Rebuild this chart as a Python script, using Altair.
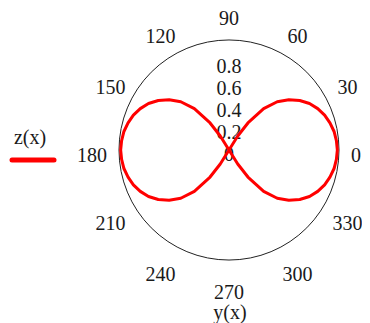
import altair as alt
import pandas as pd

# ---- data ----
curve_angle = [0, 5, 10, 15, 20, 25, 30, 35, 40, 45, 50, 55, 58, 60,
               240, 238, 235, 230, 225, 220, 215, 210, 205, 200, 195, 190, 185, 180,
               175, 170, 165, 160, 155, 150, 145, 140, 135, 130, 125, 122, 120,
               300, 302, 305, 310, 315, 320, 325, 330, 335, 340, 345, 350, 355, 360]
curve_radius = [0.985, 0.98, 0.97, 0.95, 0.925, 0.89, 0.845, 0.785, 0.71, 0.62, 0.49, 0.30, 0.15, 0.0,
                0.0, 0.15, 0.30, 0.49, 0.62, 0.71, 0.785, 0.845, 0.89, 0.925, 0.95, 0.97, 0.98, 0.985,
                0.98, 0.97, 0.95, 0.925, 0.89, 0.845, 0.785, 0.71, 0.62, 0.49, 0.30, 0.15, 0.0,
                0.0, 0.15, 0.30, 0.49, 0.62, 0.71, 0.785, 0.845, 0.89, 0.925, 0.95, 0.97, 0.98, 0.985]
tick_angles = [0, 30, 60, 90, 120, 150, 180, 210, 240, 270, 300, 330]
angle_labels = ["0", "30", "60", "90", "120", "150", "180", "210", "240", "270", "300", "330"]
radial_ticks = [0, 0.2, 0.4, 0.6, 0.8]
radial_labels = ["0", "0.2", "0.4", "0.6", "0.8"]
outer_radius = [1.0]
legend_label = ["z(x)"]
angle_axis_label = ["y(x)"]

# ---- layout ----
W, H = 354, 315
CX, CY, S = 221, 142, 110
LABEL_R = 1.245
XMAX_LABEL = (W - CX - 6) / S   # keep the right-most label inside the page
FONT = "Liberation Serif"
FS = 20
TXT = "#1a1a1a"

xs = alt.Scale(domain=[-CX / S, (W - CX) / S], nice=False, zero=False)
ys = alt.Scale(domain=[(CY - H) / S, CY / S], nice=False, zero=False)

def X(f):
    return alt.X(f, type="quantitative", scale=xs, axis=None)

def Y(f):
    return alt.Y(f, type="quantitative", scale=ys, axis=None)

circle = alt.Chart(pd.DataFrame({"r": outer_radius})).transform_calculate(
    px="0", py="0"
).mark_point(shape="circle", filled=False, stroke="#222222", strokeWidth=1,
             size=(2 * S * outer_radius[0]) ** 2, opacity=1).encode(x=X("px"), y=Y("py"))

radial = alt.Chart(pd.DataFrame({"r": radial_ticks, "lab": radial_labels})).transform_calculate(
    px="0", py="datum.r"
).mark_text(font=FONT, fontSize=FS, color=TXT, align="center", baseline="middle", dy=5).encode(
    x=X("px"), y=Y("py"), text="lab:N")

angles = alt.Chart(pd.DataFrame({"a": tick_angles, "lab": angle_labels})).transform_calculate(
    px=f"min({LABEL_R}*cos(datum.a*PI/180), {XMAX_LABEL})", py=f"{LABEL_R}*sin(datum.a*PI/180)"
).mark_text(font=FONT, fontSize=FS, color=TXT, align="center", baseline="middle", dy=6).encode(
    x=X("px"), y=Y("py"), text="lab:N")

curve_df = pd.DataFrame({"i": list(range(len(curve_angle))), "deg": curve_angle, "r": curve_radius})
curve = alt.Chart(curve_df).transform_calculate(
    px="datum.r*cos(datum.deg*PI/180)", py="datum.r*sin(datum.deg*PI/180)"
).mark_line(color="#ff0000", strokeWidth=3, strokeJoin="round", strokeCap="round").encode(
    x=X("px"), y=Y("py"), order="i:Q")

legend_text = alt.Chart(pd.DataFrame({"t": legend_label})).mark_text(
    font=FONT, fontSize=FS, color=TXT, align="center", baseline="middle"
).encode(x=alt.value(22), y=alt.value(130), text="t:N")

legend_line = alt.Chart(pd.DataFrame({"t": legend_label})).mark_rule(
    color="#ff0000", strokeWidth=5, strokeCap="round"
).encode(x=alt.value(4), x2=alt.value(46), y=alt.value(152))

ylab = alt.Chart(pd.DataFrame({"t": angle_axis_label})).mark_text(
    font=FONT, fontSize=FS, color=TXT, align="center", baseline="middle"
).encode(x=alt.value(222), y=alt.value(305), text="t:N")

chart = alt.layer(circle, radial, angles, curve, legend_text, legend_line, ylab).properties(
    width=W, height=H, padding=0, autosize=alt.AutoSizeParams(type="none"), background="white"
).configure_view(stroke=None)

chart.save("out.html", embed_options={"renderer": "svg", "actions": False})
